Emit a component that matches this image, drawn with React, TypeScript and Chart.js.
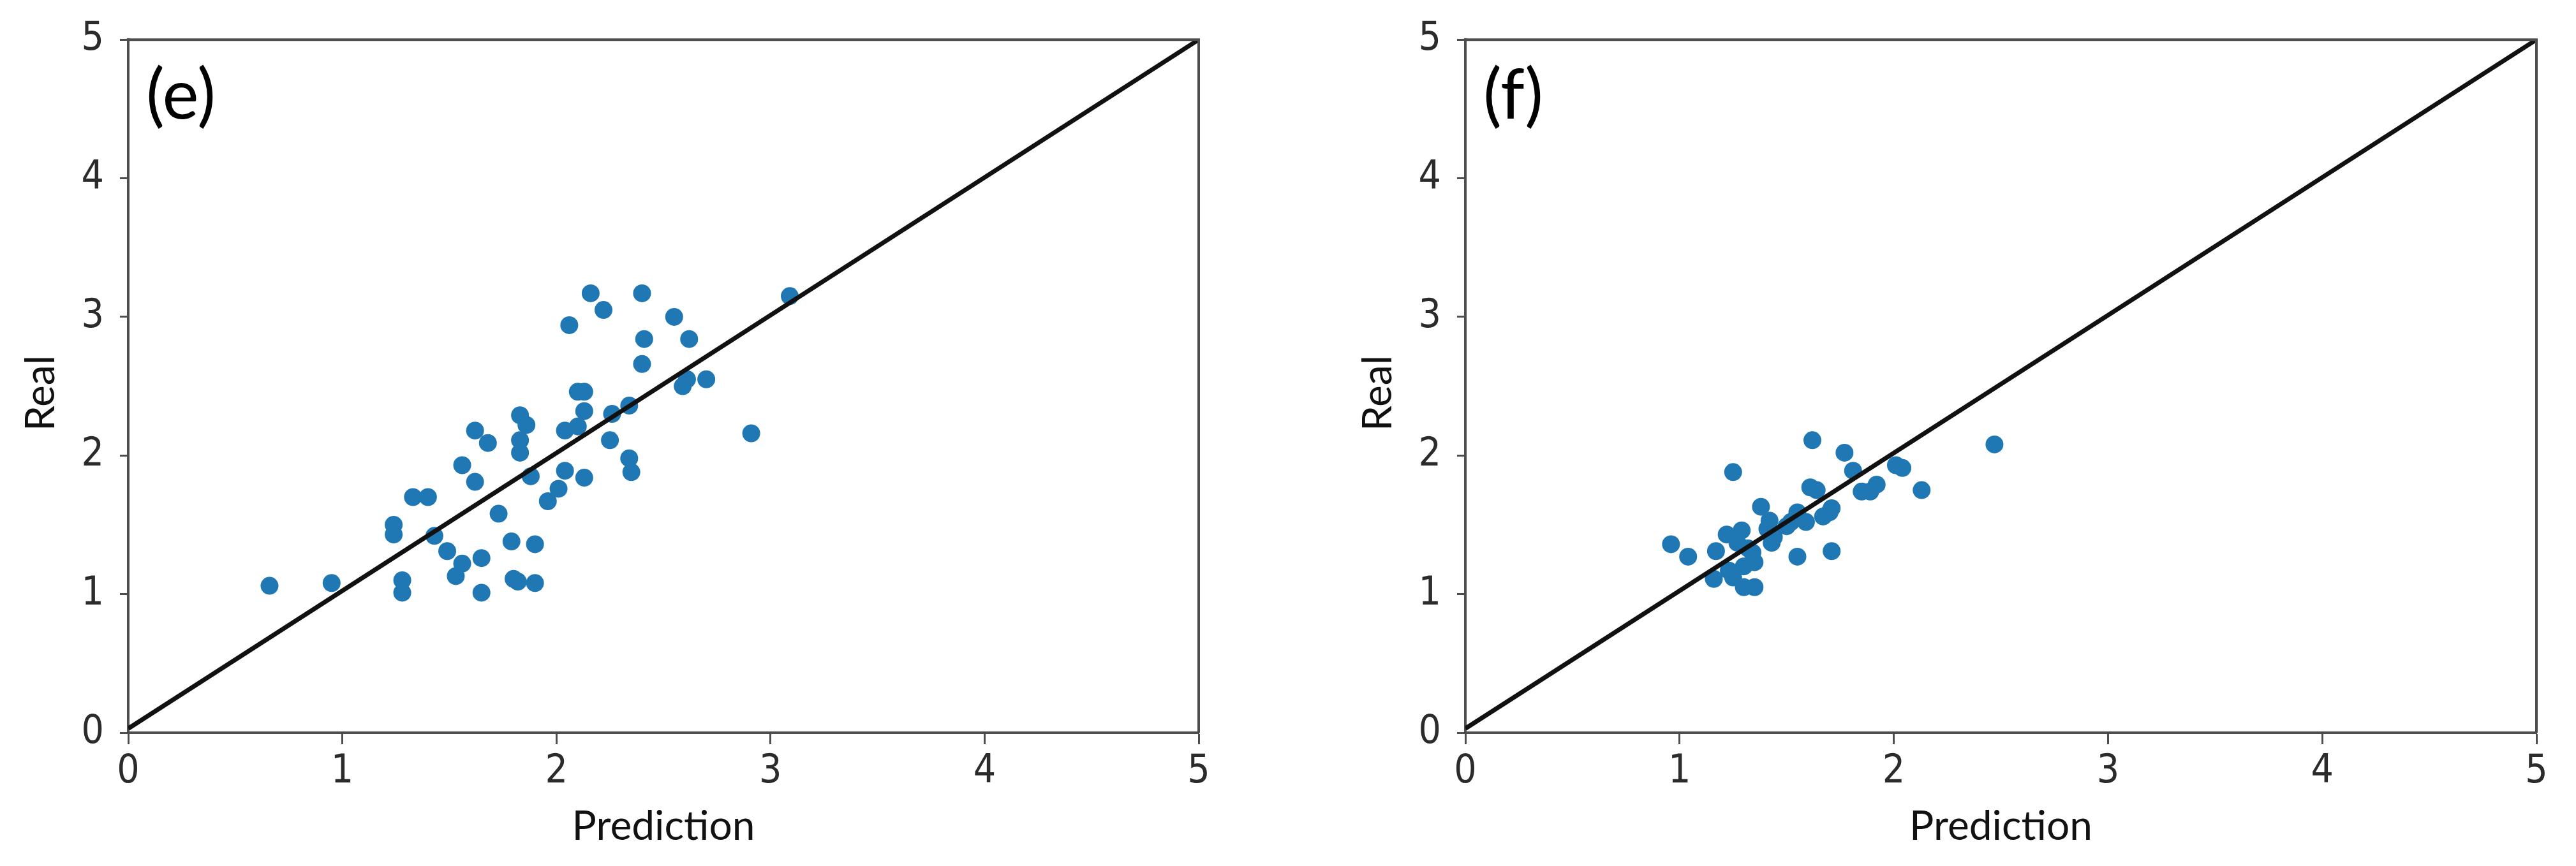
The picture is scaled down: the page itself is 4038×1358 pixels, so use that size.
import React, { useEffect, useRef } from "react";
import { Chart, registerables } from "chart.js";

Chart.register(...registerables);

// ---- data ----
const tickValues = [0, 1, 2, 3, 4, 5];
const identityX = [0, 5];
const identityY = [0.03, 5];
const xTitle = "Prediction";
const yTitle = "Real";
const panelLabels = ["(e)", "(f)"];

const predictionE = [
  0.66, 0.95, 1.28, 1.28, 1.24, 1.24, 1.33, 1.4, 1.43, 1.49, 1.56, 1.53, 1.65, 1.65,
  1.73, 1.79, 1.82, 1.8, 1.9, 1.9, 1.56, 1.62, 1.62, 1.68, 1.83, 1.86, 1.83, 1.83,
  1.88, 1.96, 2.16, 2.4, 2.22, 2.06, 2.55, 3.09, 2.41, 2.62, 2.4, 2.61, 2.59, 2.7,
  2.91, 2.1, 2.13, 2.13, 2.1, 2.04, 2.26, 2.34, 2.25, 2.34, 2.35, 2.13, 2.04, 2.01,
];
const realE = [
  1.06, 1.08, 1.1, 1.01, 1.5, 1.43, 1.7, 1.7, 1.42, 1.31, 1.22, 1.13, 1.26, 1.01,
  1.58, 1.38, 1.09, 1.11, 1.36, 1.08, 1.93, 1.81, 2.18, 2.09, 2.29, 2.22, 2.11, 2.02,
  1.85, 1.67, 3.17, 3.17, 3.05, 2.94, 3.0, 3.15, 2.84, 2.84, 2.66, 2.55, 2.5, 2.55,
  2.16, 2.46, 2.46, 2.32, 2.21, 2.18, 2.3, 2.36, 2.11, 1.98, 1.88, 1.84, 1.89, 1.76,
];

const predictionF = [
  1.62, 1.77, 1.25, 1.81, 2.01, 2.04, 2.13, 2.47, 1.61, 1.64, 1.85, 1.89, 1.92, 1.38,
  1.71, 1.67, 1.7, 1.55, 1.59, 1.52, 1.42, 1.41, 1.44, 1.43, 1.29, 1.22, 0.96, 1.04,
  1.17, 1.27, 1.34, 1.35, 1.3, 1.23, 1.16, 1.25, 1.3, 1.35, 1.55, 1.71, 1.5, 1.32,
];
const realF = [
  2.11, 2.02, 1.88, 1.89, 1.93, 1.91, 1.75, 2.08, 1.77, 1.75, 1.74, 1.74, 1.79, 1.63,
  1.62, 1.56, 1.59, 1.59, 1.52, 1.52, 1.53, 1.47, 1.41, 1.37, 1.46, 1.43, 1.36, 1.27,
  1.31, 1.37, 1.3, 1.23, 1.2, 1.17, 1.11, 1.12, 1.05, 1.05, 1.27, 1.31, 1.49, 1.33,
];

// ---- style ----
const CANVAS_W = 2019;
const CANVAS_H = 1358;
const FRAME = "#4d4d4d";
const DOT = "#1f77b4";
const TICK_FONT = "'Liberation Sans Narrow', 'DejaVu Sans Condensed', Lato, sans-serif";
const LABEL_FONT = "Lato, 'Open Sans', sans-serif";

type PanelProps = {
  pred: number[];
  real: number[];
  label: string;
  padLeft: number;
  padRight: number;
  left: number;
};

function Panel({ pred, real, label, padLeft, padRight, left }: PanelProps) {
  const ref = useRef<HTMLCanvasElement | null>(null);

  useEffect(() => {
    if (!ref.current) return;
    const framePlugin = {
      id: "frameAndText",
      afterDraw(chart: any) {
        const ctx = chart.ctx;
        const a = chart.chartArea;
        ctx.save();
        ctx.strokeStyle = FRAME;
        ctx.lineWidth = 4;
        ctx.beginPath();
        ctx.moveTo(a.left, a.top);
        ctx.lineTo(a.right, a.top);
        ctx.lineTo(a.right, a.bottom);
        ctx.stroke();

        ctx.fillStyle = "#000";
        ctx.textBaseline = "alphabetic";
        ctx.textAlign = "left";
        ctx.font = `108px ${LABEL_FONT}`;
        ctx.fillText(label, a.left + 28, a.top + 124);

        ctx.fillStyle = "#111";
        ctx.font = `64px ${LABEL_FONT}`;
        ctx.textAlign = "center";
        ctx.fillText(xTitle, (a.left + a.right) / 2, a.bottom + 168);

        ctx.translate(a.left - 116, (a.top + a.bottom) / 2 + 11);
        ctx.rotate(-Math.PI / 2);
        ctx.fillText(yTitle, 0, 0);
        ctx.restore();
      },
    };

    const chart = new Chart(ref.current, {
      type: "scatter",
      data: {
        datasets: [
          {
            type: "line",
            data: identityX.map((x, i) => ({ x, y: identityY[i] })),
            borderColor: "#111",
            borderWidth: 7,
            pointRadius: 0,
            showLine: true,
            fill: false,
            tension: 0,
            order: 0,
          } as any,
          {
            type: "scatter",
            data: pred.map((x, i) => ({ x, y: real[i] })),
            backgroundColor: DOT,
            borderColor: DOT,
            borderWidth: 0,
            pointRadius: 14,
            order: 1,
          } as any,
        ],
      },
      options: {
        animation: false,
        responsive: false,
        maintainAspectRatio: false,
        layout: { padding: { top: 54, right: padRight, left: padLeft, bottom: 0 } },
        plugins: { legend: { display: false }, tooltip: { enabled: false } },
        scales: {
          x: {
            type: "linear",
            min: tickValues[0],
            max: tickValues[tickValues.length - 1],
            afterBuildTicks: (s: any) => {
              s.ticks = tickValues.map((v) => ({ value: v }));
            },
            afterFit: (s: any) => {
              s.height = 209;
            },
            grid: {
              display: true,
              drawOnChartArea: false,
              drawTicks: true,
              tickLength: 18,
              tickWidth: 3,
              tickColor: FRAME,
            },
            border: { display: true, color: FRAME, width: 4 },
            ticks: {
              color: "#2b2b2b",
              padding: 7,
              maxRotation: 0,
              font: { family: TICK_FONT, size: 62 },
              callback: (v: any) => String(v),
            },
          },
          y: {
            type: "linear",
            min: tickValues[0],
            max: tickValues[tickValues.length - 1],
            afterBuildTicks: (s: any) => {
              s.ticks = tickValues.map((v) => ({ value: v }));
            },
            afterFit: (s: any) => {
              s.width = 201;
            },
            grid: {
              display: true,
              drawOnChartArea: false,
              drawTicks: true,
              tickLength: 13,
              tickWidth: 3,
              tickColor: FRAME,
            },
            border: { display: true, color: FRAME, width: 4 },
            ticks: {
              color: "#2b2b2b",
              padding: 25,
              font: { family: TICK_FONT, size: 62 },
              callback: (v: any) => String(v),
            },
          },
        },
      },
      plugins: [framePlugin],
    } as any);

    return () => chart.destroy();
  }, [pred, real, label, padLeft, padRight]);

  return (
    <canvas
      ref={ref}
      width={CANVAS_W}
      height={CANVAS_H}
      style={{ position: "absolute", left, top: 0, width: CANVAS_W, height: CANVAS_H }}
    />
  );
}

export default function App() {
  return (
    <div
      style={{
        position: "absolute",
        left: 0,
        top: 0,
        width: 4038,
        height: 1358,
        background: "#fff",
        overflow: "hidden",
      }}
    >
      <Panel pred={predictionE} real={realE} label={panelLabels[0]} padLeft={0} padRight={140} left={0} />
      <Panel pred={predictionF} real={realF} label={panelLabels[1]} padLeft={77} padRight={62} left={2019} />
    </div>
  );
}
